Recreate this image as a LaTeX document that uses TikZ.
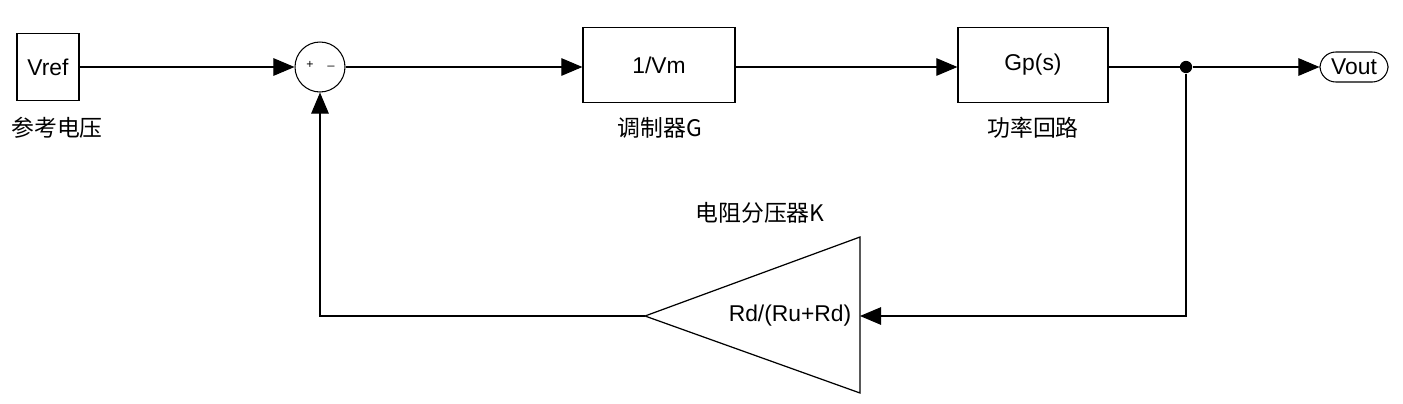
\documentclass[tikz,border=0pt]{standalone}
\usepackage{fontspec}
\setmainfont{Liberation Sans}
\newfontfamily\cjk{Noto Sans CJK SC}
\usetikzlibrary{arrows.meta,positioning,shapes.geometric}

\begin{document}
\begin{tikzpicture}[x=0.02cm,y=-0.02cm,
    blk/.style={draw,rectangle,line width=0.7pt,inner sep=0pt,font=\fontsize{13}{15}\selectfont},
    sig/.style={-{Triangle[length=12pt,width=10pt]},line width=0.6pt},
    lbl/.style={font=\cjk\fontsize{13}{15}\selectfont}]
    \useasboundingbox (0,0) rectangle (1403,403);
    % Forward path
    \node[blk,minimum width=1.24cm,minimum height=1.34cm] (vref) at (48,67) {Vref};
    \node[draw,circle,minimum size=1cm,inner sep=0pt,line width=0.6pt] (sum) at (320,67) {};
    \node[font=\scriptsize] at (310,65) {+};
    \node[font=\scriptsize] at (331,66) {\_};
    \node[blk,minimum width=3.04cm,minimum height=1.5cm] (mod) at (659,65) {1/Vm};
    \node[blk,minimum width=3cm,minimum height=1.5cm] (plant) at (1033,65) {Gp(s)};
    \node[draw,rounded corners=9pt,minimum width=1.36cm,minimum height=0.6cm,inner sep=0pt,line width=0.6pt,font=\fontsize{13}{15}\selectfont] (vout) at (1354,67) {Vout};
    \node[circle,fill,inner sep=0pt,minimum size=7pt] (dot) at (1186,67) {};
    % Labels
    \node[lbl] at (57,128) {参考电压};
    \node[lbl] at (660,128) {调制器G};
    \node[lbl] at (1033,128) {功率回路};
    \node[lbl] at (760,213) {电阻分压器K};
    % Feedback gain
    \coordinate (apex) at (645,316);
    \coordinate (btop) at (860,237);
    \coordinate (bbot) at (860,393);
    \draw[line width=0.7pt] (apex) -- (btop) -- (bbot) -- cycle;
    \node[font=\fontsize{13}{15}\selectfont] (gain) at (790,316) {Rd/(Ru+Rd)};
    \coordinate (bmid) at (860,316);
    % Connections
    \draw[sig] (vref.east |- sum) -- (sum.west);
    \draw[sig] (sum.east) -- (mod.west |- sum);
    \draw[sig] (mod.east |- sum) -- (plant.west |- sum);
    \draw[line width=0.6pt] (plant.east |- sum) -- (dot);
    \draw[sig] (dot) -- (vout.west);
    \draw[sig] (dot) |- (bmid);
    \draw[sig] (apex) -| (sum.south);
\end{tikzpicture}
\end{document}
